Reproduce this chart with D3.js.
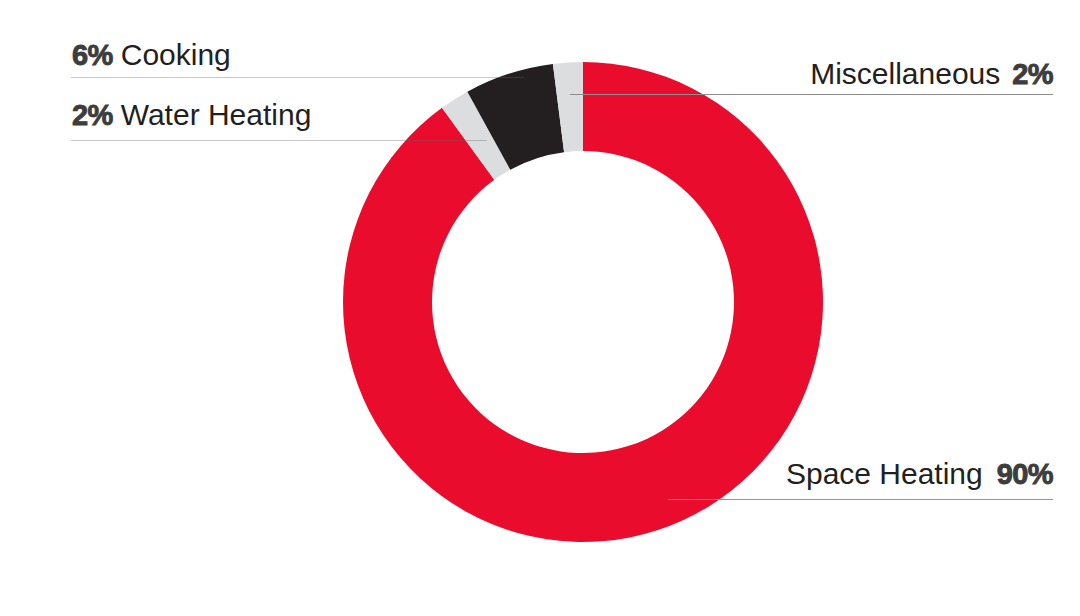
<!DOCTYPE html>
<html>
<head>
<meta charset="utf-8">
<script src="https://cdn.jsdelivr.net/npm/d3@7/dist/d3.min.js"></script>
<style>
  html, body { margin: 0; padding: 0; background: #fff; }
  svg { display: block; }
  .name { font-family: 'Liberation Sans', Arial, sans-serif; font-size: 30px; fill: #231f20; }
  .pct { font-family: 'Liberation Sans', Arial, sans-serif; font-size: 29px; font-weight: bold; fill: #3d3d3d; stroke: #3d3d3d; stroke-width: 0.9px; letter-spacing: -0.6px; }
</style>
</head>
<body>
<svg id="chart"></svg>
<script>
const categories = ['Space Heating', 'Water Heating', 'Cooking', 'Miscellaneous'];
const shares = [90, 2, 6, 2];
const sliceColors = ['#e90c2d', '#dcdddf', '#231f20', '#dcdddf'];

function drawDonut(id) {
  const totalWidth = 1080;
  const totalHeight = 616;
  const cx = 583;
  const cy = 302;
  const outerRadius = 240;
  const innerRadius = 151;

  // label placement per slice (baseline y, leader y, side, leader nudge, gap name/pct)
  const labelLayout = [
    { side: 'right', baseline: 484, lineY: 499.5, nudge: 21, gap: 14, stroke: '#959595', opacity: 1 },
    { side: 'left', baseline: 124.5, lineY: 140.5, nudge: 6, gap: 8, stroke: '#666', opacity: 0.36 },
    { side: 'left', baseline: 64.5, lineY: 77.5, nudge: 14, gap: 8, stroke: '#666', opacity: 0.36 },
    { side: 'right', baseline: 83.5, lineY: 94.5, nudge: 0, gap: 12, stroke: '#8c8c8c', opacity: 1 }
  ];
  const leftX = 71;
  const rightX = 1053;

  const svg = d3.select(id)
    .attr('width', totalWidth)
    .attr('height', totalHeight)
    .attr('viewBox', `0 0 ${totalWidth} ${totalHeight}`);

  const pie = d3.pie().sort(null).value(function (d) { return d; });
  const arcs = pie(shares);
  const arc = d3.arc().innerRadius(innerRadius).outerRadius(outerRadius);

  /* render slices */
  const g = svg.append('g').attr('transform', `translate(${cx}, ${cy})`);
  g.selectAll('.slice')
    .data(arcs)
    .enter()
    .append('path')
    .attr('class', 'slice')
    .attr('fill', function (d, i) { return sliceColors[i]; })
    .attr('d', arc);

  /* render leader lines: from the text edge to where the slice's mid-angle meets the line */
  svg.append('g')
    .selectAll('.leader')
    .data(arcs)
    .enter()
    .append('line')
    .attr('class', 'leader')
    .attr('stroke-width', 1)
    .attr('stroke', function (d, i) { return labelLayout[i].stroke; })
    .attr('stroke-opacity', function (d, i) { return labelLayout[i].opacity; })
    .attr('x1', function (d, i) {
      return labelLayout[i].side === 'left' ? leftX : rightX;
    })
    .attr('x2', function (d, i) {
      const l = labelLayout[i];
      const mid = (d.startAngle + d.endAngle) / 2;
      const dy = l.lineY - cy;
      const x = cx + dy * -Math.tan(mid);
      return x + l.nudge;
    })
    .attr('y1', function (d, i) { return labelLayout[i].lineY; })
    .attr('y2', function (d, i) { return labelLayout[i].lineY; });

  /* render labels */
  const labels = svg.append('g')
    .selectAll('.label')
    .data(arcs)
    .enter()
    .append('g')
    .attr('class', 'label');

  labels.each(function (d, i) {
    const l = labelLayout[i];
    const lg = d3.select(this);
    const pctText = `${shares[i]}%`;
    if (l.side === 'left') {
      const pct = lg.append('text')
        .attr('class', 'pct')
        .attr('x', leftX + 1)
        .attr('y', l.baseline)
        .text(pctText);
      const w = pct.node().getComputedTextLength();
      lg.append('text')
        .attr('class', 'name')
        .attr('x', leftX + 1 + w + l.gap)
        .attr('y', l.baseline)
        .text(categories[i]);
    } else {
      const pct = lg.append('text')
        .attr('class', 'pct')
        .attr('text-anchor', 'end')
        .attr('x', rightX)
        .attr('y', l.baseline)
        .text(pctText);
      const w = pct.node().getComputedTextLength();
      lg.append('text')
        .attr('class', 'name')
        .attr('text-anchor', 'end')
        .attr('x', rightX - w - l.gap)
        .attr('y', l.baseline)
        .text(categories[i]);
    }
  });
}

drawDonut('#chart');
</script>
</body>
</html>
